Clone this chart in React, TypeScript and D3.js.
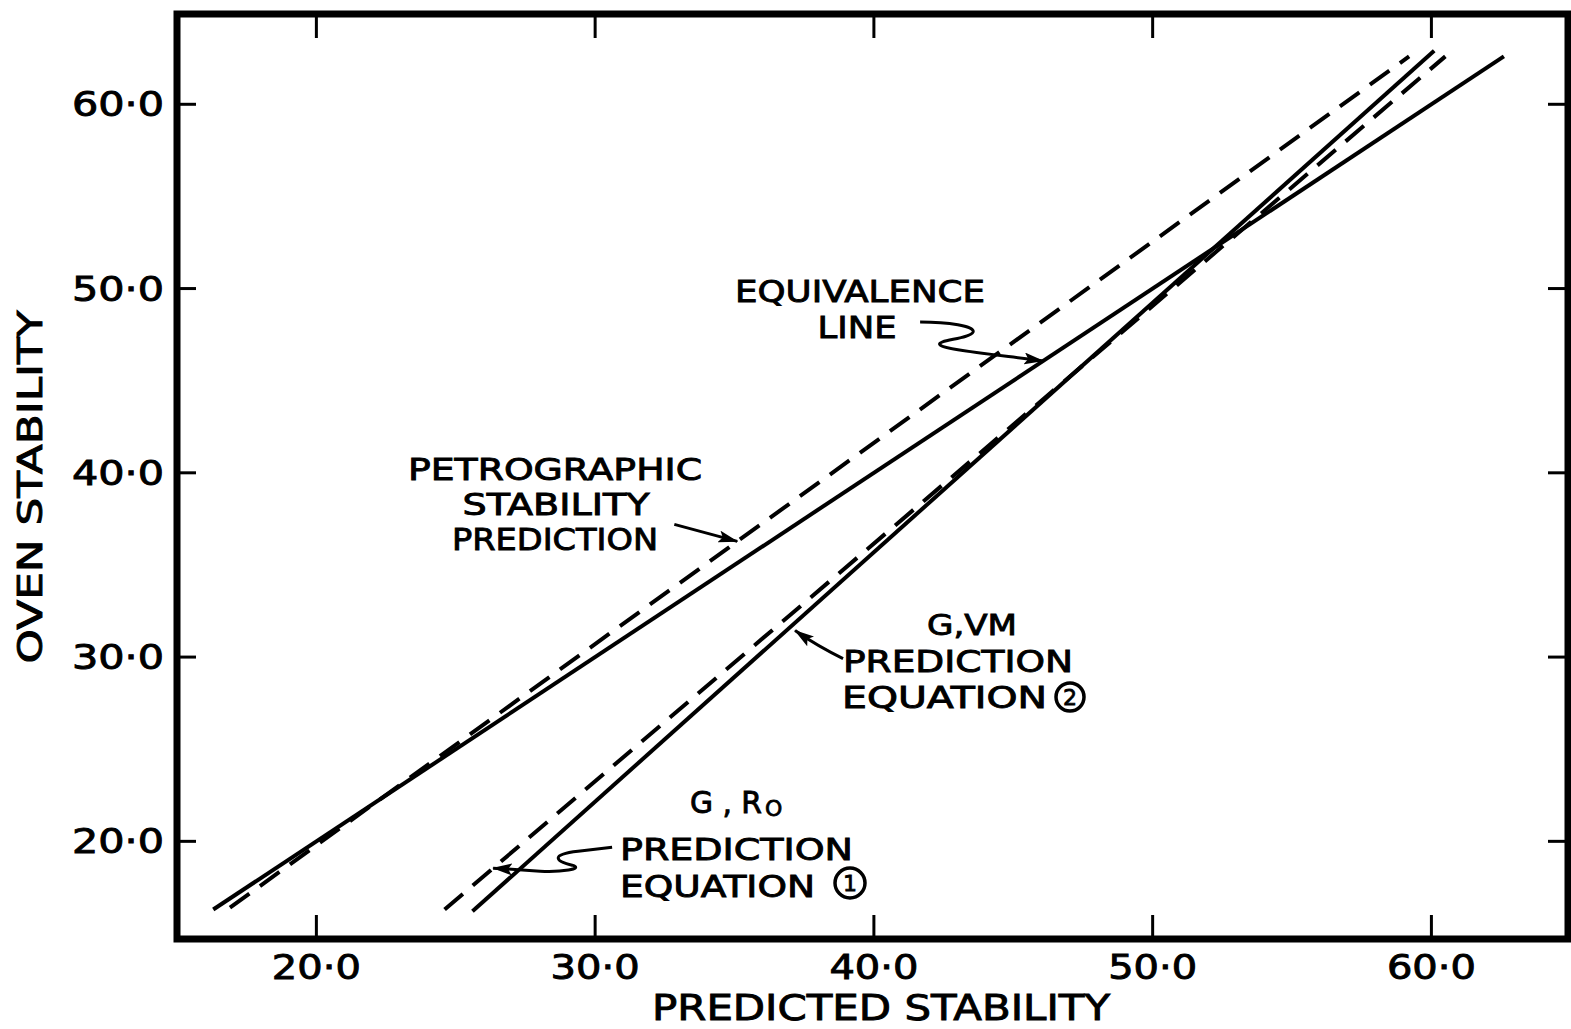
import React from "react";
import * as d3 from "d3";

// Axis ticks (both axes share the same stability scale steps)
const xTicks = [20, 30, 40, 50, 60];
const yTicks = [20, 30, 40, 50, 60];

// Line end points as [predicted, oven] stability
const equivalenceLine: [number, number][] = [[16.3, 16.3], [62.6, 62.6]];
const petrographicLine: [number, number][] = [[16.9, 16.4], [59.2, 62.6]];
const gRoLine: [number, number][] = [[24.6, 16.3], [60.5, 62.6]]; // equation 1
const gVmLine: [number, number][] = [[25.6, 16.2], [60.1, 62.9]]; // equation 2

const W = 1571;
const H = 1029;
const FONT = "'DejaVu Sans', Verdana, sans-serif";
const TEXT_STROKE = 0.9;

const xScale = d3.scaleLinear().domain([15, 64.9]).range([177, 1568]);
const yScale = d3.scaleLinear().domain([14.7, 64.9]).range([939, 14]);

const lineGen = d3
  .line<[number, number]>()
  .x((d) => xScale(d[0]))
  .y((d) => yScale(d[1]));

// y value of a straight two-point line at a given x
const yOnLine = (pts: [number, number][], x: number) => {
  const [[x0, y0], [x1, y1]] = pts;
  return y0 + ((x - x0) * (y1 - y0)) / (x1 - x0);
};
const tipOn = (pts: [number, number][], x: number) => ({
  x: xScale(x),
  y: yScale(yOnLine(pts, x)),
});

const fmt = (v: number) => `${v}·0`;

function Label({
  x,
  y,
  len,
  size = 30,
  anchor = "middle",
  children,
}: {
  x: number;
  y: number;
  len: number;
  size?: number;
  anchor?: string;
  children: React.ReactNode;
}) {
  return (
    <text
      x={x}
      y={y}
      textAnchor={anchor}
      fontSize={size}
      textLength={len}
      lengthAdjust="spacingAndGlyphs"
      fontFamily={FONT}
      fill="#000"
      stroke="#000"
      strokeWidth={TEXT_STROKE}
    >
      {children}
    </text>
  );
}

export default function App() {
  const eqTip = tipOn(equivalenceLine, 46.07);
  const petTip = tipOn(petrographicLine, 35.1);
  const vmTip = tipOn(gVmLine, 37.1);
  const roTip = tipOn(gRoLine, 26.34);

  const frameLeft = xScale(15);
  const frameRight = xScale(64.9);
  const frameTop = yScale(64.9);
  const frameBottom = yScale(14.7);

  return (
    <svg
      width={W}
      height={H}
      viewBox={`0 0 ${W} ${H}`}
      style={{ position: "absolute", left: 0, top: 0, background: "#fff" }}
    >
      <defs>
        <marker
          id="head"
          viewBox="0 0 20 12"
          refX="19"
          refY="6"
          markerWidth="20"
          markerHeight="12"
          markerUnits="userSpaceOnUse"
          orient="auto"
        >
          <path d="M0,0 L20,6 L0,12 L4,6 Z" fill="#000" />
        </marker>
      </defs>
      <rect x={0} y={0} width={W} height={H} fill="#fff" />

      {/* frame */}
      <path
        d={`M${frameLeft},${frameBottom} L${frameLeft},${frameTop} L${frameRight},${frameTop} L${frameRight},${frameBottom} Z`}
        fill="none"
        stroke="#000"
        strokeWidth={7}
      />

      {/* inward ticks on all four sides */}
      {xTicks.map((t) => (
        <g key={`xt${t}`} stroke="#000" strokeWidth={3}>
          <line x1={xScale(t)} x2={xScale(t)} y1={frameTop} y2={frameTop + 24} />
          <line x1={xScale(t)} x2={xScale(t)} y1={frameBottom} y2={frameBottom - 24} />
        </g>
      ))}
      {yTicks.map((t) => (
        <g key={`yt${t}`} stroke="#000" strokeWidth={3}>
          <line x1={frameLeft} x2={frameLeft + 19} y1={yScale(t)} y2={yScale(t)} />
          <line x1={frameRight} x2={frameRight - 20} y1={yScale(t)} y2={yScale(t)} />
        </g>
      ))}

      {/* tick labels */}
      {xTicks.map((t) => (
        <Label key={`xl${t}`} x={xScale(t)} y={979} len={89} size={33}>
          {fmt(t)}
        </Label>
      ))}
      {yTicks.map((t) => (
        <Label key={`yl${t}`} x={164} y={yScale(t) + 12} len={92} size={33} anchor="end">
          {fmt(t)}
        </Label>
      ))}

      {/* axis titles */}
      <Label x={881} y={1020} len={458} size={35}>
        PREDICTED STABILITY
      </Label>
      <text
        transform="translate(42,487) rotate(-90)"
        textAnchor="middle"
        fontSize={34}
        textLength={353}
        lengthAdjust="spacingAndGlyphs"
        fontFamily={FONT}
        stroke="#000"
        strokeWidth={TEXT_STROKE}
      >
        OVEN STABILITY
      </text>

      {/* lines */}
      <path d={lineGen(equivalenceLine) || ""} fill="none" stroke="#000" strokeWidth={4} />
      <path
        d={lineGen(petrographicLine) || ""}
        fill="none"
        stroke="#000"
        strokeWidth={4}
        strokeDasharray="24 13"
      />
      <path
        d={lineGen(gRoLine) || ""}
        fill="none"
        stroke="#000"
        strokeWidth={4}
        strokeDasharray="24 13"
      />
      <path d={lineGen(gVmLine) || ""} fill="none" stroke="#000" strokeWidth={4} />

      {/* EQUIVALENCE LINE annotation */}
      <Label x={860} y={302} len={250}>EQUIVALENCE</Label>
      <Label x={857} y={338} len={79}>LINE</Label>
      <path
        d={`M${eqTip.x - 123},${eqTip.y - 39} C${eqTip.x - 95},${eqTip.y - 39} ${eqTip.x - 68},${eqTip.y - 35} ${eqTip.x - 70},${eqTip.y - 29} C${eqTip.x - 73},${eqTip.y - 22} ${eqTip.x - 108},${eqTip.y - 21} ${eqTip.x - 103},${eqTip.y - 16} C${eqTip.x - 98},${eqTip.y - 11} ${eqTip.x - 45},${eqTip.y - 6} ${eqTip.x},${eqTip.y}`}
        fill="none"
        stroke="#000"
        strokeWidth={3}
        markerEnd="url(#head)"
      />

      {/* PETROGRAPHIC STABILITY PREDICTION annotation */}
      <Label x={555} y={480} len={294}>PETROGRAPHIC</Label>
      <Label x={556} y={515} len={187}>STABILITY</Label>
      <Label x={555} y={550} len={206}>PREDICTION</Label>
      <path
        d={`M${petTip.x - 63},${petTip.y - 17} L${petTip.x},${petTip.y}`}
        fill="none"
        stroke="#000"
        strokeWidth={3}
        markerEnd="url(#head)"
      />

      {/* G,VM PREDICTION EQUATION 2 annotation */}
      <Label x={972} y={635} len={90} size={29}>G,VM</Label>
      <Label x={958} y={672} len={230}>PREDICTION</Label>
      <Label x={944.5} y={708} len={205}>EQUATION</Label>
      <circle cx={1070} cy={697} r={14} fill="none" stroke="#000" strokeWidth={3.5} />
      <text x={1070} y={705} textAnchor="middle" fontSize={22} fontFamily={FONT} stroke="#000" strokeWidth={0.8}>
        2
      </text>
      <path
        d={`M${vmTip.x + 50},${vmTip.y + 34} Q${vmTip.x + 25},${vmTip.y + 22} ${vmTip.x + 2},${vmTip.y + 6}`}
        fill="none"
        stroke="#000"
        strokeWidth={3}
        markerEnd="url(#head)"
      />

      {/* G, Ro PREDICTION EQUATION 1 annotation */}
      <Label x={690} y={813} len={72} size={30} anchor="start">G , R</Label>
      <text x={765} y={816} fontSize={22} fontFamily={FONT} stroke="#000" strokeWidth={0.8}>
        O
      </text>
      <Label x={736.5} y={860} len={233}>PREDICTION</Label>
      <Label x={717.5} y={897} len={195}>EQUATION</Label>
      <circle cx={850} cy={883} r={15} fill="none" stroke="#000" strokeWidth={3.5} />
      <text x={850} y={891} textAnchor="middle" fontSize={22} fontFamily={FONT} stroke="#000" strokeWidth={0.8}>
        1
      </text>
      <path
        d={`M${roTip.x + 119},${roTip.y - 21} L${roTip.x + 85},${roTip.y - 17} C${roTip.x + 57},${roTip.y - 14} ${roTip.x + 62},${roTip.y - 7} ${roTip.x + 79},${roTip.y - 3} C${roTip.x + 92},${roTip.y + 1} ${roTip.x + 67},${roTip.y + 4} ${roTip.x + 47},${roTip.y + 3} L${roTip.x},${roTip.y}`}
        fill="none"
        stroke="#000"
        strokeWidth={3}
        markerEnd="url(#head)"
      />
    </svg>
  );
}
